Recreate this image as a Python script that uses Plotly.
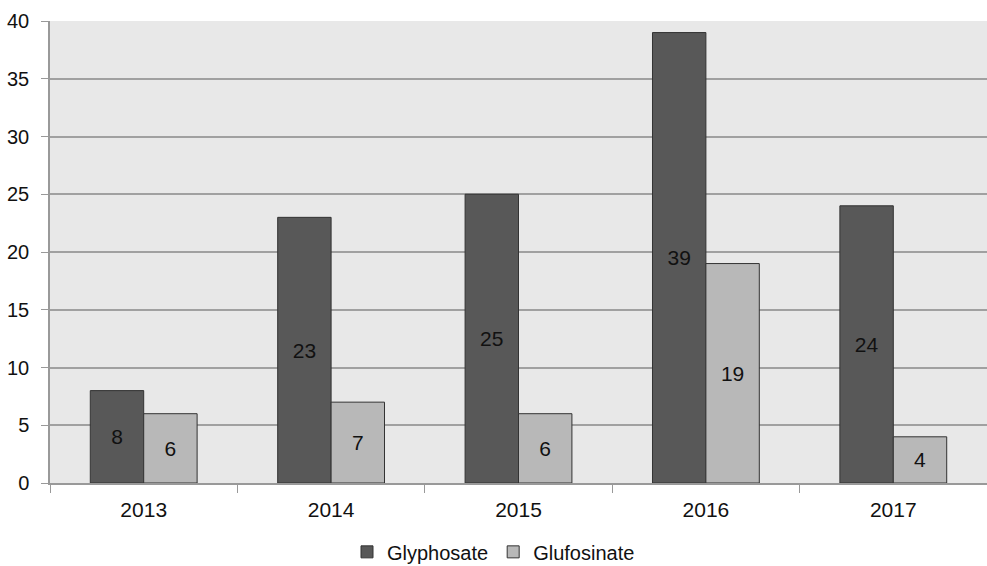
import plotly.graph_objects as go

years = ["2013", "2014", "2015", "2016", "2017"]
glyphosate = [8, 23, 25, 39, 24]
glufosinate = [6, 7, 6, 19, 4]

font_family = "Liberation Sans, Arial, sans-serif"

fig = go.Figure()
fig.add_trace(go.Bar(
    x=years, y=glyphosate, name="Glyphosate",
    marker=dict(color="#585858", line=dict(color="#333333", width=1)),
    text=[str(v) for v in glyphosate], textposition="inside",
    insidetextanchor="middle", constraintext="none",
    textfont=dict(color="#111111", size=21, family=font_family),
))
fig.add_trace(go.Bar(
    x=years, y=glufosinate, name="Glufosinate",
    marker=dict(color="#b8b8b8", line=dict(color="#333333", width=1)),
    text=[str(v) for v in glufosinate], textposition="inside",
    insidetextanchor="middle", constraintext="none",
    textfont=dict(color="#111111", size=21, family=font_family),
))

fig.update_layout(
    width=987, height=566,
    margin=dict(l=50, r=0, t=21, b=83, autoexpand=False),
    paper_bgcolor="white",
    plot_bgcolor="#e8e8e8",
    barmode="group",
    bargap=0.43,
    bargroupgap=0,
    font=dict(family=font_family, size=20, color="#111111"),
    showlegend=True,
    legend=dict(
        orientation="h", xref="container", x=0.5, xanchor="center",
        yref="container", y=0.025, yanchor="middle",
        font=dict(size=20), itemwidth=30, traceorder="normal",
    ),
    xaxis=dict(
        type="category", tickson="boundaries", ticks="outside", ticklen=8,
        tickcolor="#999999", showline=True, linecolor="#999999", linewidth=1.5,
        showgrid=False, tickfont=dict(size=21), ticklabelstandoff=7,
    ),
    yaxis=dict(
        range=[0, 40], dtick=5, ticks="outside", ticklen=7, tickcolor="#999999",
        showline=True, linecolor="#999999", linewidth=1.5,
        showgrid=True, gridcolor="#a0a0a0", gridwidth=1.5,
        zeroline=False, tickfont=dict(size=20), ticklabelstandoff=8,
    ),
)

fig.write_html("out.html")
